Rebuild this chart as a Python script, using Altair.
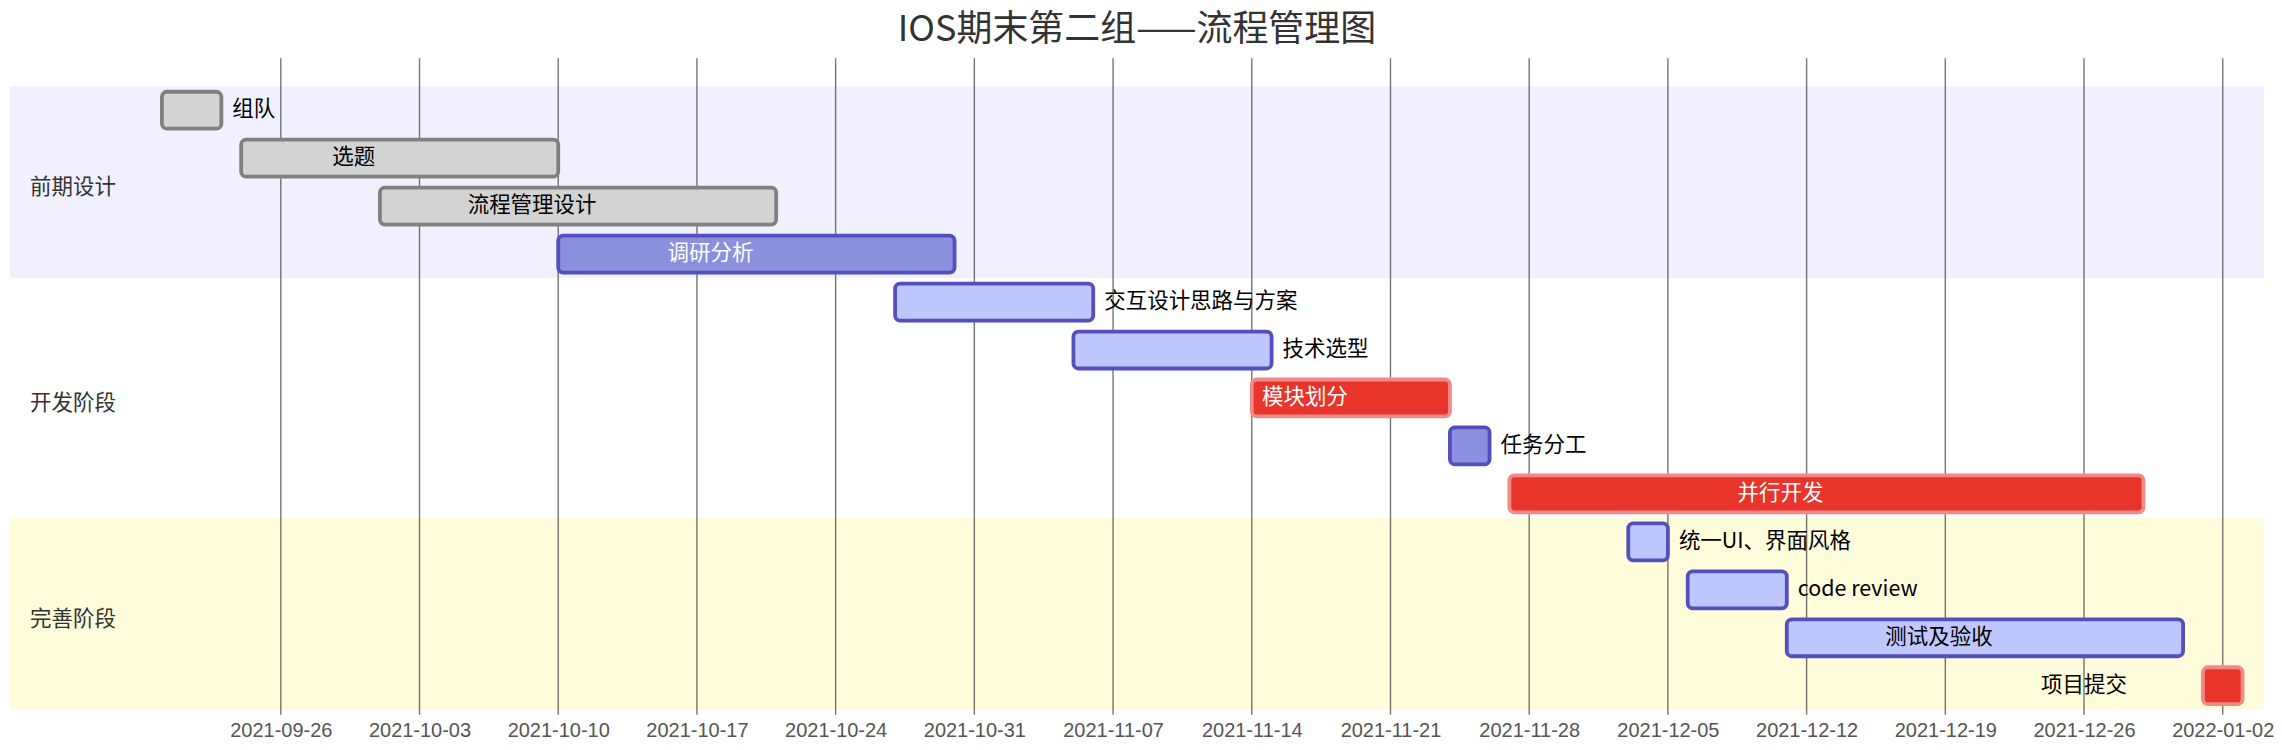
import altair as alt
import pandas as pd

# ---------------- data ----------------
tasks = ["组队", "选题", "流程管理设计", "调研分析",
         "交互设计思路与方案", "技术选型", "模块划分", "任务分工", "并行开发",
         "统一UI、界面风格", "code review", "测试及验收", "项目提交"]
sections = ["前期设计"] * 4 + ["开发阶段"] * 5 + ["完善阶段"] * 4
starts = ["2021-09-20", "2021-09-24", "2021-10-01", "2021-10-10",
          "2021-10-27", "2021-11-05", "2021-11-14", "2021-11-24", "2021-11-27",
          "2021-12-03", "2021-12-06", "2021-12-11", "2022-01-01"]
ends = ["2021-09-23", "2021-10-10", "2021-10-21", "2021-10-30",
        "2021-11-06", "2021-11-15", "2021-11-24", "2021-11-26", "2021-12-29",
        "2021-12-05", "2021-12-11", "2021-12-31", "2022-01-03"]
status = ["done", "done", "done", "normal",
          "active", "active", "crit", "normal", "crit",
          "active", "active", "active", "crit"]
label_side = ["right", "inside", "inside", "inside",
              "right", "right", "inside", "right", "inside",
              "right", "right", "inside", "left"]
section_order = ["前期设计", "开发阶段", "完善阶段"]
tick_labels = ["2021-09-26", "2021-10-03", "2021-10-10", "2021-10-17", "2021-10-24",
               "2021-10-31", "2021-11-07", "2021-11-14", "2021-11-21", "2021-11-28",
               "2021-12-05", "2021-12-12", "2021-12-19", "2021-12-26", "2022-01-02"]
title_text = "IOS期末第二组——流程管理图"

# ---------------- tables ----------------
df = pd.DataFrame({"task": tasks, "section": sections, "start": starts, "end": ends,
                   "status": status, "side": label_side})
df["row"] = range(len(df))
df["y0"] = df["row"] - 0.385
df["y1"] = df["row"] + 0.385
s_ms = pd.to_datetime(df["start"]).astype("int64") // 10**6
e_ms = pd.to_datetime(df["end"]).astype("int64") // 10**6
df["mid"] = (s_ms + e_ms) // 2
df["tcolor"] = ["#ffffff" if (sd == "inside" and st in ("normal", "crit")) else "#000000"
                for sd, st in zip(df["side"], df["status"])]

sec = df.groupby("section", sort=False)["row"].agg(["min", "max"]).reset_index()
sec["y0"] = sec["min"] - 0.5
sec["y1"] = sec["max"] + 0.5
sec["ym"] = (sec["min"] + sec["max"]) / 2.0

ticks_df = pd.DataFrame({"d": tick_labels})


def dt(s, h=0, m=0):
    y, mo, d = [int(v) for v in s.split("-")]
    return alt.DateTime(year=y, month=mo, date=d, hours=h, minutes=m, utc=True)


W, H = 2256, 657
xscale = alt.Scale(type="utc", domain=[dt("2021-09-12", 8, 0), dt("2022-01-04", 2, 0)])
yscale = alt.Scale(domain=[-1.083, 12.604], reverse=True, nice=False, zero=False)
FONT = "Noto Sans CJK SC"

base = alt.Chart(df)

bg = alt.Chart(sec).mark_rect().encode(
    x=alt.value(0), x2=alt.value(W),
    y=alt.Y("y0:Q", scale=yscale, axis=None), y2="y1:Q",
    color=alt.Color("section:N", scale=alt.Scale(domain=section_order,
                    range=["#f0f0fe", "#ffffff", "#fffcdc"]), legend=None),
)

grid = alt.Chart(ticks_df).mark_rule(color="#333333", opacity=0.68, strokeWidth=1.4).encode(
    x=alt.X("d:T", scale=xscale,
            axis=alt.Axis(values=[dt(t) for t in tick_labels], format="%Y-%m-%d",
                          grid=False, domain=False, ticks=False, labelFontSize=20,
                          labelColor="#555555", labelFont="Liberation Sans",
                          labelPadding=6, title=None, labelOverlap=False)),
)

bars = base.mark_bar(cornerRadius=5, strokeWidth=3.8).encode(
    x=alt.X("start:T", scale=xscale), x2="end:T",
    y=alt.Y("y0:Q", scale=yscale, axis=None), y2="y1:Q",
    fill=alt.Fill("status:N", scale=alt.Scale(domain=["done", "active", "normal", "crit"],
                  range=["#d3d3d3", "#bfc7ff", "#8a90dd", "#e8342a"]), legend=None),
    stroke=alt.Stroke("status:N", scale=alt.Scale(domain=["done", "active", "normal", "crit"],
                      range=["#808080", "#534fbc", "#534fbc", "#f08a86"]), legend=None),
)

txt_style = dict(font=FONT, fontSize=21.5, baseline="middle")
inside = base.transform_filter("datum.side == 'inside'").mark_text(align="center", dx=-46, **txt_style).encode(
    x=alt.X("mid:T", scale=xscale), y=alt.Y("row:Q", scale=yscale, axis=None),
    text="task:N", color=alt.Color("tcolor:N", scale=None))
right = base.transform_filter("datum.side == 'right'").mark_text(align="left", dx=11, **txt_style).encode(
    x=alt.X("end:T", scale=xscale), y=alt.Y("row:Q", scale=yscale, axis=None),
    text="task:N", color=alt.Color("tcolor:N", scale=None))
left = base.transform_filter("datum.side == 'left'").mark_text(align="right", dx=-76, **txt_style).encode(
    x=alt.X("start:T", scale=xscale), y=alt.Y("row:Q", scale=yscale, axis=None),
    text="task:N", color=alt.Color("tcolor:N", scale=None))

sec_labels = alt.Chart(sec).mark_text(align="left", color="#333333", dy=6, **txt_style).encode(
    x=alt.value(20), y=alt.Y("ym:Q", scale=yscale, axis=None), text="section:N")

chart = alt.layer(bg, grid, bars, inside, right, left, sec_labels).properties(
    width=W, height=H,
    title=alt.TitleParams(title_text, fontSize=36, font=FONT, color="#333333",
                          fontWeight="normal", anchor="middle", offset=9),
    autosize=alt.AutoSizeParams(type="none"),
    padding={"left": 2, "top": 50, "right": 10, "bottom": 35},
).configure_view(stroke=None)

chart.save("out.html", embed_options={"renderer": "svg", "actions": False})
